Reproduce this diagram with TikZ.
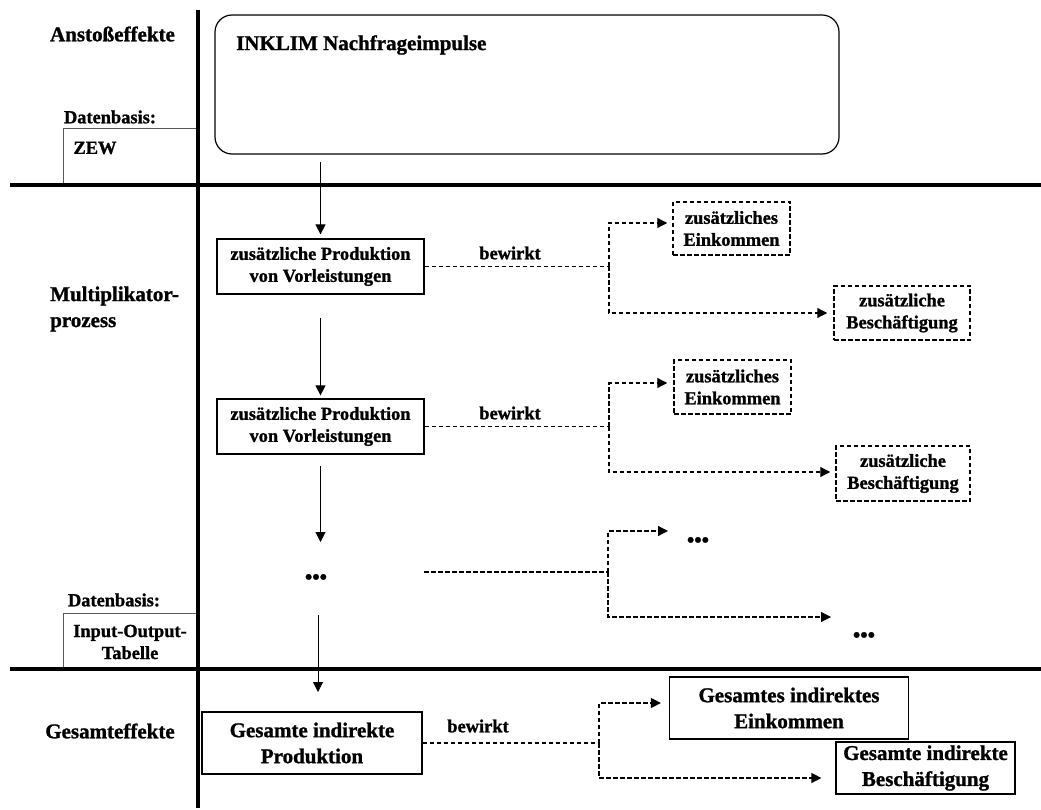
\documentclass[tikz,border=0pt]{standalone}
\usepackage{fontspec}
\setmainfont{Liberation Serif}[BoldFeatures={FakeBold=1.2}]
\usetikzlibrary{arrows.meta}
\begin{document}
\begin{tikzpicture}[x=1pt,y=-1pt,
  sml/.style={font=\fontsize{18.4}{22}\selectfont\bfseries, align=center, inner sep=0pt},
  big/.style={font=\fontsize{21}{26}\selectfont\bfseries, align=center, inner sep=0pt},
  solidbox/.style={sml, draw, line width=1.2pt},
  bigbox/.style={big, draw, line width=1.2pt},
  dashbox/.style={sml, draw, line width=1.5pt, dash pattern=on 4.5pt off 2.5pt},
  arr/.style={line width=1pt, -{Triangle[length=10pt,width=10pt]}},
  dl/.style={line width=1.2pt, dash pattern=on 4.5pt off 2.5pt},
  darr/.style={dl, -{Triangle[length=10pt,width=10pt]}},
  sep/.style={line width=4pt},
  dbline/.style={line width=1pt, draw=black!65}
]
\useasboundingbox (0,0) rectangle (1041,810);

% section labels
\node[big] (lA) at (112.5,34) {Anstoßeffekte};
\node[big, anchor=west, align=left] (lM) at (50,309) {Multiplikator-\\prozess};
\node[big] (lG) at (110,731) {Gesamteffekte};

% data bases
\node[sml] (db1) at (110,117) {Datenbasis:};
\draw[dbline] (63,185) -- (63,129) -- (198,129);
\node[sml] (zew) at (95,148) {ZEW};
\node[sml] (db2) at (114,600) {Datenbasis:};
\draw[dbline] (63,669) -- (63,613) -- (198,613);
\node[sml] (io) at (130,642) {Input-Output-\\Tabelle};

% INKLIM
\node[draw, line width=1.2pt, rounded corners=17pt, minimum width=624pt, minimum height=139pt] (inklim) at (527,84.5) {};
\node[big, anchor=west] (inklimt) at (236,45) {INKLIM Nachfrageimpulse};

% chain boxes
\node[solidbox, minimum width=207pt, minimum height=55pt] (box1) at (320.5,266.5) {zusätzliche Produktion\\von Vorleistungen};
\node[solidbox, minimum width=207pt, minimum height=55pt] (box2) at (320.5,426.5) {zusätzliche Produktion\\von Vorleistungen};
\node[big] (dots1) at (316,579) {•••};
\node[bigbox, minimum width=220pt, minimum height=62pt] (prodG) at (312,743) {Gesamte indirekte\\Produktion};

% vertical arrows
\coordinate (a0) at (320.5,162);
\coordinate (a1) at (320.5,318);
\coordinate (a2s) at (320.5,466);
\coordinate (a2e) at (320.5,542);
\coordinate (a3s) at (318,615);
\coordinate (a3e) at (318,692);
\draw[arr, shorten >=4pt] (a0) -- (box1.north);
\draw[arr, shorten >=3pt] (a1) -- (box2.north);
\draw[arr] (a2s) -- (a2e);
\draw[arr] (a3s) -- (a3e);

% effect boxes
\node[dashbox, minimum width=117pt, minimum height=53pt] (ek1) at (731.5,228.5) {zusätzliches\\Einkommen};
\node[dashbox, minimum width=136pt, minimum height=54pt] (bs1) at (902,313) {zusätzliche\\Beschäftigung};
\node[dashbox, minimum width=117pt, minimum height=54pt] (ek2) at (732.5,387) {zusätzliches\\Einkommen};
\node[dashbox, minimum width=134pt, minimum height=55pt] (bs2) at (903,473.5) {zusätzliche\\Beschäftigung};
\node[bigbox, minimum width=239pt, minimum height=62pt] (einkG) at (789,708) {Gesamtes indirektes\\Einkommen};
\node[bigbox, minimum width=179pt, minimum height=52pt] (beschG) at (925.5,768) {Gesamte indirekte\\Beschäftigung};

% bewirkt labels
\node[sml] (bw1) at (510,253) {bewirkt};
\node[sml] (bw2) at (510,413) {bewirkt};
\node[sml] (bw4) at (478,726) {bewirkt};

% branch 1
\coordinate (j1) at (609,266.5);
\draw[dl] (box1.east) -- (j1);
\draw[darr, shorten >=5pt] (j1) |- ([yshift=5.5pt]ek1.west);
\draw[darr, shorten >=6pt] (j1) |- (bs1.west);

% branch 2
\coordinate (j2) at (609,426.5);
\draw[dl] (box2.east) -- (j2);
\draw[darr, shorten >=6pt] (j2) |- ([yshift=4pt]ek2.west);
\draw[darr, shorten >=5pt] (j2) |- ([yshift=1.5pt]bs2.west);

% branch 3
\coordinate (d3s) at (424,572);
\coordinate (j3) at (608,572);
\coordinate (t3a) at (668,531);
\coordinate (t3b) at (831,617);
\draw[dl] (d3s) -- (j3);
\draw[darr] (j3) |- (t3a);
\draw[darr] (j3) |- (t3b);
\node[big] (dots3a) at (698,542) {•••};
\node[big] (dots3b) at (864,637) {•••};

% branch 4
\coordinate (j4) at (599,743);
\draw[dl] (prodG.east) -- (j4);
\draw[darr, shorten >=8pt] (j4) |- ([yshift=5pt]einkG.west);
\draw[darr, shorten >=14pt] (j4) |- ([yshift=-10pt]beschG.west);

% separators
\draw[sep] (198,10) -- (198,808);
\draw[sep] (10,185) -- (1041,185);
\draw[sep] (10,669) -- (1041,669);
\end{tikzpicture}
\end{document}
